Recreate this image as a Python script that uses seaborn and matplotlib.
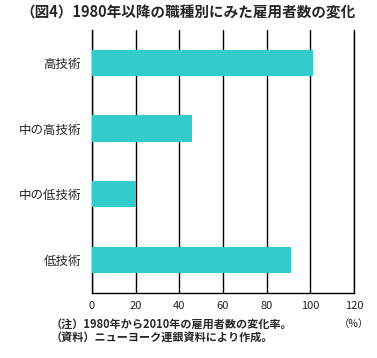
import matplotlib
matplotlib.use('Agg')
import matplotlib.pyplot as plt
import seaborn as sns
import pandas as pd

# ── data ──────────────────────────────────────────────────────────────────────
categories = ['高技術', '中の高技術', '中の低技術', '低技術']
change_pct = [101, 46, 20, 91]
x_ticks = [0, 20, 40, 60, 80, 100, 120]
x_labels = ['0', '20', '40', '60', '80', '100', '120']
title = '（図4）1980年以降の職種別にみた雇用者数の変化'
notes = ['（注）1980年から2010年の雇用者数の変化率。',
         '（資料）ニューヨーク連銀資料により作成。']

df = pd.DataFrame({'cat': categories, 'val': change_pct})

# ── style ─────────────────────────────────────────────────────────────────────
sns.set_style('white')
plt.rcParams['font.family'] = ['Noto Sans CJK JP', 'DejaVu Sans']

fig = plt.figure(figsize=(3.77, 3.58), dpi=100)
ax = fig.add_axes([0.244, 0.182, 0.695, 0.734])

sns.barplot(data=df, x='val', y='cat', orient='h', color='#33CCCC',
            saturation=1, width=0.4, linewidth=0, ax=ax, zorder=3)

ax.set_xlim(0, 120)
ax.set_ylim(3.5, -0.5)
ax.set_xticks(x_ticks)
ax.set_xticklabels(x_labels, fontsize=8, color='#222222')
ax.tick_params(axis='x', length=0, pad=6)
ax.tick_params(axis='y', which='major', length=0, labelsize=9, pad=8)
ax.set_yticks([0.5, 1.5, 2.5], minor=True)
ax.tick_params(axis='y', which='minor', direction='in', length=3,
               width=1, color='black')
ax.set_xlabel('')
ax.set_ylabel('')

ax.xaxis.grid(True, color='black', linewidth=1)
ax.set_axisbelow(True)
for side in ['left', 'bottom', 'right']:
    ax.spines[side].set_visible(True)
    ax.spines[side].set_color('black')
    ax.spines[side].set_linewidth(1)
ax.spines['top'].set_visible(False)

# unit label under last tick
ax.text(120, -0.1, '（%）', transform=ax.get_xaxis_transform(),
        ha='center', va='top', fontsize=7.5, color='#222222')

fig.text(0.5, 0.965, title, ha='center', va='center',
         fontsize=10.5, fontweight='bold')
fig.text(0.135, 0.093, notes[0], ha='left', va='center',
         fontsize=8, fontweight='bold')
fig.text(0.135, 0.058, notes[1], ha='left', va='center',
         fontsize=8, fontweight='bold')

plt.savefig('out.png', dpi=100)
